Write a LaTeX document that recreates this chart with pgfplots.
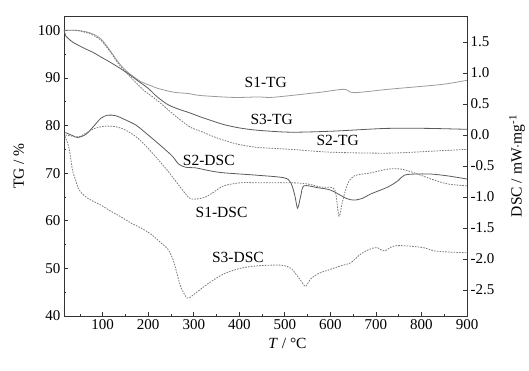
\documentclass[border=0pt]{standalone}
\usepackage{pgfplots}
\pgfplotsset{compat=1.18}
\usepackage{fontspec}
\setmainfont{Liberation Serif}
\definecolor{axc}{HTML}{333333}
\definecolor{lightc}{HTML}{9A9A9A}
\definecolor{darkc}{HTML}{5A5A5A}
\definecolor{dashc}{HTML}{7A7A7A}
\begin{document}
\begin{tikzpicture}
\path (-64pt,-54pt) rectangle (465pt,316pt);
\pgfplotsset{
  common/.style={
    scale only axis, width=403pt, height=300pt,
    at={(0,0)}, anchor=south west,
    xmin=15, xmax=900,
    tick align=inside,
    axis line style={axc, line width=0.9pt},
    tick style={axc, line width=0.8pt},
    major tick length=4pt, minor tick length=2.5pt,
    ticklabel style={font=\fontsize{15}{15}\selectfont, text=black},
    label style={font=\fontsize{15.5}{16}\selectfont},
    /pgf/number format/assume math mode=true,
  }
}
\begin{axis}[common,
  ymin=40, ymax=103,
  xtick={100,200,...,900}, minor xtick={50,150,...,850},
  ytick={40,50,...,100}, minor ytick={45,55,...,95},
  xtick pos=bottom, ytick pos=left,
  xlabel={\textit{T} / °C},
  ylabel={TG / \%},
  xlabel style={xshift=22pt, yshift=-2pt},
  ylabel style={yshift=7pt},
  /pgf/number format/fixed,
]
% S1-TG
\addplot[lightc, line width=0.8pt, smooth] coordinates {
(15,100)(40,100)(52,99.9)(74,99.4)(96,98.2)(118,95.5)(135,93.2)(155,91.2)(184,89.2)(205,88.4)(221,87.8)(256,87.0)(290,86.7)(315,86.3)(388,85.9)(441,86.0)(469,85.9)(513,86.3)(579,87.0)(630,87.6)(652,86.9)(726,87.6)(821,88.4)(858,88.8)(900,89.5)};
% S2-TG
\addplot[dashc, line width=0.8pt, dash pattern=on 1.6pt off 1.2pt, smooth] coordinates {
(15,100)(40,100)(52,99.8)(74,99.2)(96,97.9)(118,95.3)(135,92.9)(155,90.8)(175,88.8)(190,87.4)(210,86.0)(227,84.7)(245,83.2)(265,81.6)(293,79.6)(315,78.8)(340,77.8)(366,76.9)(400,76.0)(441,75.4)(513,75.0)(601,74.4)(726,74.2)(821,74.6)(900,75.0)};
% S3-TG
\addplot[darkc, line width=0.8pt, smooth] coordinates {
(15,100)(19,98.8)(24,98.3)(36,97.4)(60,96.2)(80,95.3)(96,94.4)(118,93.2)(140,91.9)(160,90.6)(180,89.2)(200,87.8)(220,86.0)(243,84.4)(265,83.5)(290,82.7)(315,81.8)(340,81.0)(366,80.2)(400,79.5)(441,79.0)(513,78.6)(601,78.8)(660,79.1)(726,79.4)(814,79.4)(900,79.2)};
\node[font=\fontsize{15.5}{16}\selectfont] at (axis cs:458,89.1) {S1-TG};
\node[font=\fontsize{15.5}{16}\selectfont] at (axis cs:471,81.3) {S3-TG};
\node[font=\fontsize{15.5}{16}\selectfont] at (axis cs:616,76.9) {S2-TG};
\node[font=\fontsize{15.5}{16}\selectfont] at (axis cs:333,72.7) {S2-DSC};
\node[font=\fontsize{15.5}{16}\selectfont] at (axis cs:361,61.8) {S1-DSC};
\node[font=\fontsize{15.5}{16}\selectfont] at (axis cs:397,52.2) {S3-DSC};
\end{axis}
\begin{axis}[common,
  ymin=-2.92, ymax=1.92,
  axis x line=none, axis y line*=right,
  ytick={-2.5,-2,...,1.5},
  yticklabel style={/pgf/number format/.cd, fixed, fixed zerofill, precision=1},
  ylabel={DSC / mW$\cdot$mg\textsuperscript{-1}},
  ylabel style={yshift=-8pt},
]
% S2-DSC
\addplot[darkc, line width=0.8pt, smooth] coordinates {
(18,0.04)(34,-0.01)(45,-0.04)(63,0.01)(80,0.14)(96,0.27)(111,0.32)(129,0.31)(151,0.24)(173,0.16)(195,0.03)(216,-0.10)(238,-0.24)(254,-0.35)(267,-0.47)(282,-0.52)(304,-0.53)(337,-0.58)(366,-0.61)(441,-0.65)(498,-0.69)(513,-0.77)(522,-0.98)(528,-1.18)(535,-0.98)(542,-0.82)(572,-0.85)(601,-0.89)(634,-1.02)(652,-1.05)(671,-1.02)(689,-0.95)(726,-0.84)(748,-0.74)(762,-0.65)(784,-0.63)(821,-0.63)(858,-0.66)(900,-0.71)};
% S1-DSC
\addplot[dashc, line width=0.8pt, dash pattern=on 1.6pt off 1.2pt, smooth] coordinates {
(18,0.00)(34,-0.02)(47,-0.03)(63,0.03)(80,0.10)(102,0.14)(124,0.14)(140,0.11)(155,0.06)(177,-0.05)(199,-0.21)(221,-0.39)(243,-0.58)(265,-0.79)(282,-0.95)(293,-1.03)(309,-1.03)(326,-1.00)(344,-0.92)(366,-0.82)(403,-0.77)(441,-0.77)(513,-0.77)(550,-0.79)(579,-0.84)(605,-0.85)(612,-0.95)(619,-1.31)(627,-1.06)(638,-0.79)(652,-0.66)(689,-0.61)(726,-0.55)(755,-0.55)(784,-0.61)(821,-0.71)(858,-0.79)(900,-0.82)};
% S3-DSC
\addplot[dashc, line width=0.8pt, dash pattern=on 1.6pt off 1.2pt, smooth] coordinates {
(17,-0.02)(25,-0.18)(30,-0.39)(34,-0.58)(41,-0.74)(47,-0.87)(58,-0.97)(74,-1.05)(96,-1.13)(118,-1.23)(140,-1.32)(162,-1.42)(184,-1.50)(206,-1.60)(228,-1.74)(243,-1.84)(254,-2.00)(263,-2.23)(271,-2.44)(282,-2.60)(289,-2.63)(304,-2.55)(331,-2.40)(366,-2.24)(403,-2.15)(441,-2.11)(491,-2.10)(513,-2.15)(529,-2.29)(540,-2.40)(546,-2.44)(557,-2.32)(575,-2.23)(595,-2.18)(623,-2.11)(645,-2.06)(663,-1.94)(678,-1.87)(696,-1.82)(704,-1.82)(718,-1.87)(740,-1.79)(770,-1.79)(806,-1.82)(828,-1.87)(865,-1.89)(900,-1.90)};
\end{axis}
\end{tikzpicture}
\end{document}
